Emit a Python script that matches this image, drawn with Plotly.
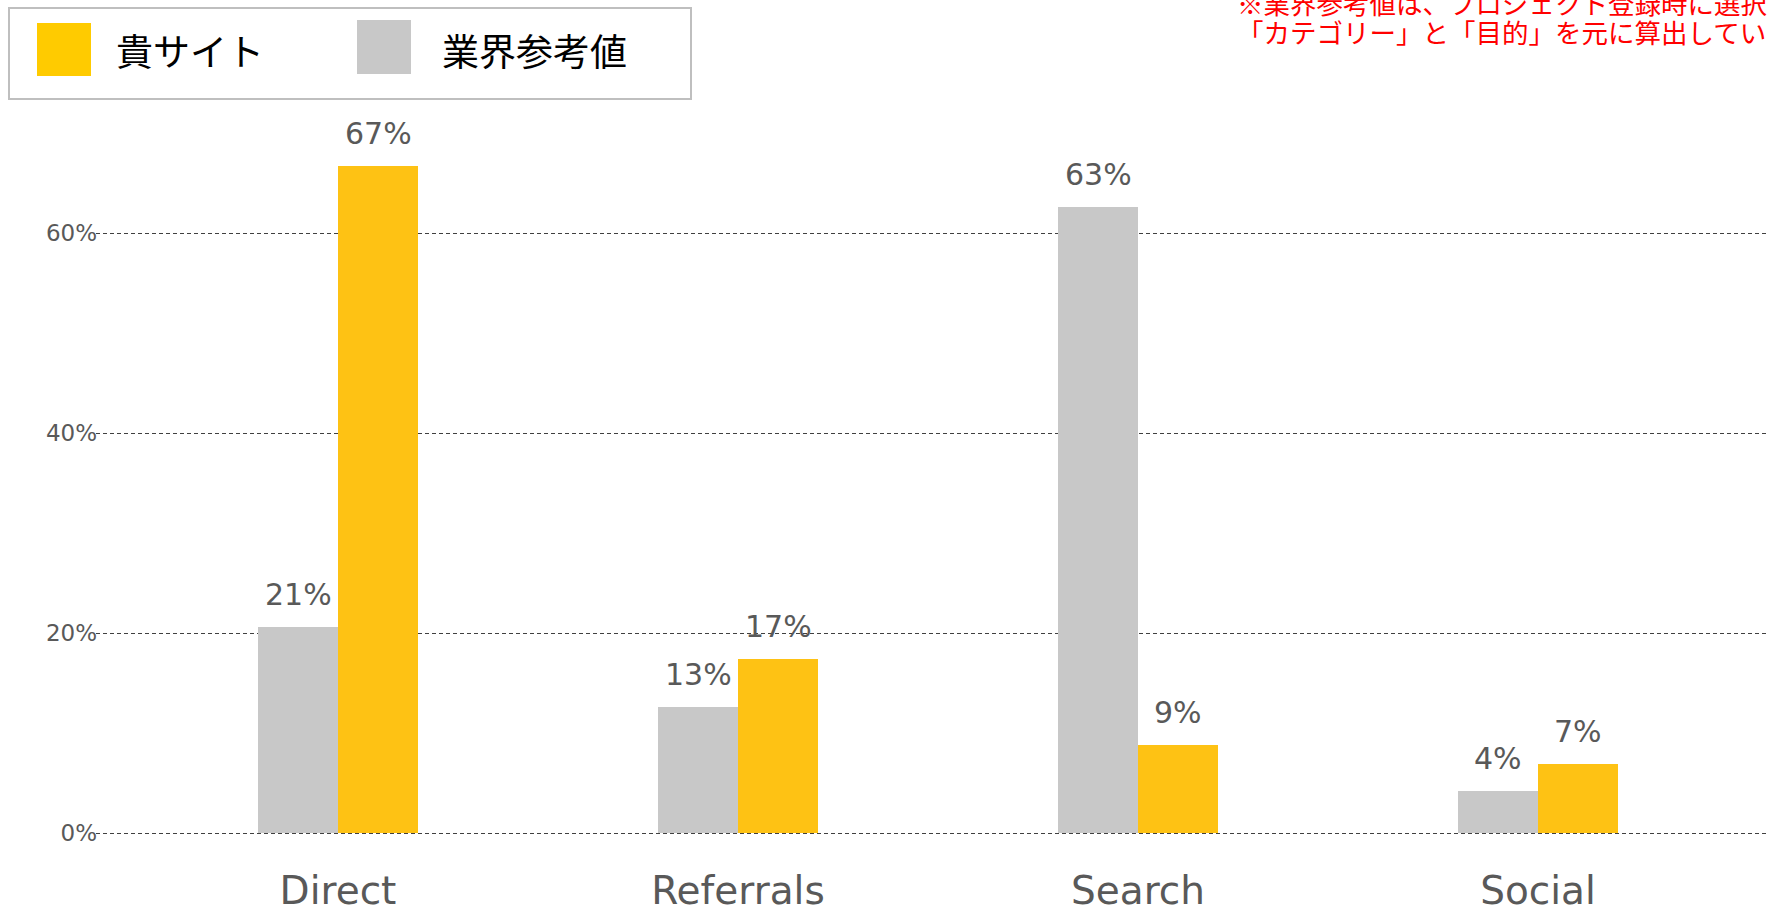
import plotly.graph_objects as go

# ---- data ----
categories = ["Direct", "Referrals", "Search", "Social"]
own_site = [66.7, 17.4, 8.8, 6.9]          # 貴サイト (%)
benchmark = [20.6, 12.6, 62.6, 4.2]        # 業界参考値 (%)
series_names = ["貴サイト", "業界参考値"]
y_ticks = [0, 20, 40, 60]
y_tick_labels = ["0%", "20%", "40%", "60%"]
note_lines = ["※業界参考値は、プロジェクト登録時に選択した",
              "「カテゴリー」と「目的」を元に算出しています"]

# ---- style ----
W, H = 1767, 909
L, R, T, B = 96, 0, 100, 73
YELLOW = "#FEC214"
YELLOW_LEG = "#FFCB00"
GRAY = "#C8C8C8"
TXT = "#595959"
LAT = "DejaVu Sans, Verdana, sans-serif"
JP = "Noto Sans CJK JP, sans-serif"

pw, ph = W - L - R, H - T - B
Y0 = -0.3  # keep the 0% grid line inside the plot area


def px_x(x):
    return (x - L) / pw


def px_y(y):
    return (H - B - y) / ph


fig = go.Figure()
fig.add_trace(go.Bar(x=categories, y=benchmark, name=series_names[1],
                     marker=dict(color=GRAY, line=dict(width=0))))
fig.add_trace(go.Bar(x=categories, y=own_site, name=series_names[0],
                     marker=dict(color=YELLOW, line=dict(width=0))))

annotations = []
for vals, shift in ((benchmark, -40), (own_site, 40)):
    for c, v in zip(categories, vals):
        annotations.append(dict(
            x=c, y=v, xref="x", yref="y", text=f"{int(v + 0.5)}%",
            showarrow=False, xanchor="center", yanchor="bottom",
            xshift=shift, yshift=13,
            font=dict(family=LAT, size=30, color=TXT)))

# legend (manual, large swatches)
shapes = [
    dict(type="rect", xref="paper", yref="paper",
         x0=px_x(9), x1=px_x(691), y0=px_y(99), y1=px_y(8),
         line=dict(color="#BFBFBF", width=2), fillcolor="white", layer="above"),
    dict(type="rect", xref="paper", yref="paper",
         x0=px_x(37), x1=px_x(91), y0=px_y(76), y1=px_y(23),
         line=dict(width=0), fillcolor=YELLOW_LEG, layer="above"),
    dict(type="rect", xref="paper", yref="paper",
         x0=px_x(357), x1=px_x(411), y0=px_y(74), y1=px_y(20),
         line=dict(width=0), fillcolor=GRAY, layer="above"),
]
for name, xpx in ((series_names[0], 114), (series_names[1], 440)):
    annotations.append(dict(
        x=px_x(xpx), y=px_y(50), xref="paper", yref="paper", text=name,
        showarrow=False, xanchor="left", yanchor="middle",
        font=dict(family=JP, size=37, color="#000000")))

for line, ypx in zip(note_lines, (3, 31)):
    annotations.append(dict(
        x=px_x(1235), y=px_y(ypx), xref="paper", yref="paper", text=line,
        showarrow=False, xanchor="left", yanchor="middle",
        font=dict(family=JP, size=26.5, color="#FF0000")))

fig.update_layout(
    width=W, height=H,
    margin=dict(l=L, r=R, t=T, b=B, pad=0, autoexpand=False),
    paper_bgcolor="white", plot_bgcolor="white",
    barmode="group", bargap=0.6, bargroupgap=0,
    showlegend=False,
    shapes=shapes, annotations=annotations,
    xaxis=dict(
        type="category", range=[-0.605, 3.5725],
        showgrid=False, zeroline=False, showline=False, ticks="",
        tickfont=dict(family=LAT, size=39, color=TXT),
        ticklabelstandoff=28, automargin=False,
    ),
    yaxis=dict(
        range=[Y0, Y0 + ph / 10], tickmode="array",
        tickvals=y_ticks, ticktext=y_tick_labels,
        showgrid=True, gridcolor="#404040", gridwidth=1, griddash="4px,3px",
        zeroline=False, showline=False, ticks="",
        tickfont=dict(family=LAT, size=23, color=TXT),
        ticklabelstandoff=-2, automargin=False,
    ),
)

fig.write_html("out.html",
               config={"displayModeBar": False},
               post_script="document.body.style.margin='0';"
                           "document.body.style.overflow='hidden';")
